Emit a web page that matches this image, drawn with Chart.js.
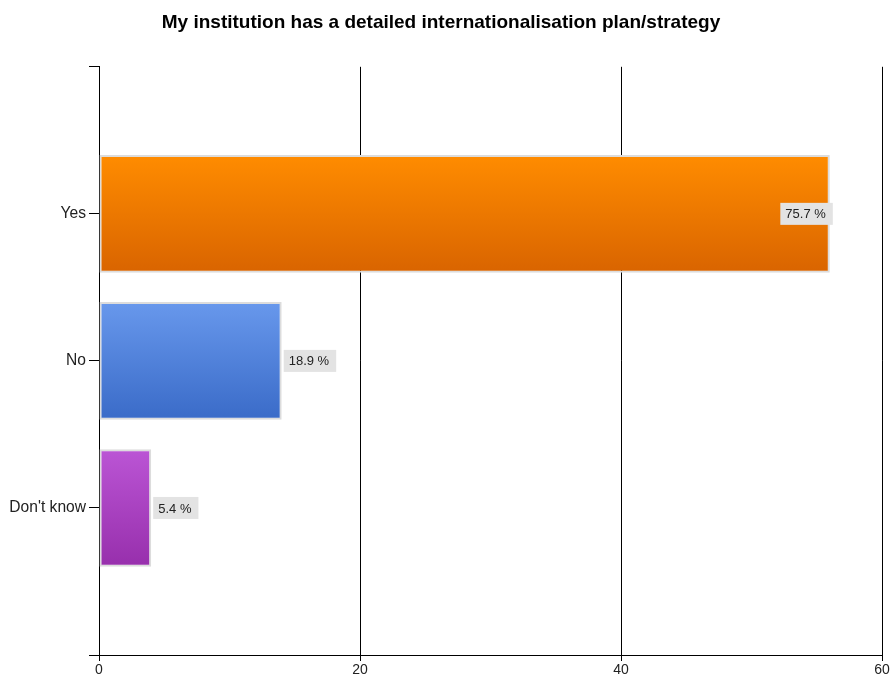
<!DOCTYPE html>
<html>
<head>
<meta charset="utf-8">
<script src="https://cdn.jsdelivr.net/npm/chart.js@4.4.1/dist/chart.umd.min.js"></script>
<style>
    html, body { margin: 0; padding: 0; background: #fff; }
    #wrap { width: 893px; height: 680px; }
</style>
</head>
<body>
<div id="wrap"><canvas id="chart" width="893" height="680"></canvas></div>
<script>
// Odpowiedzi na pytanie ankietowe
const categories = ["Yes", "No", "Don't know"];
const counts = [56, 14, 4];
const percentLabels = ["75.7 %", "18.9 %", "5.4 %"];
const xTicks = [0, 20, 40, 60];

const gradTop = ["#ff8c00", "#6898ec", "#bb55d5"];
const gradBottom = ["#d96400", "#3a6bc8", "#972fac"];

const FONT = "'Liberation Sans', Arial, sans-serif";

// puste kategorie na górze i na dole, jak w oryginale
const labels = ["", ...categories, ""];
const values = [null, ...counts, null];

function barGradient(context) {
    const chart = context.chart;
    const i = context.dataIndex - 1;
    if (i < 0 || i >= categories.length) return "#ccc";
    const y = chart.scales.y;
    if (!y || !chart.chartArea) return gradTop[i];
    const center = y.getPixelForValue(context.dataIndex);
    const half = (y.getPixelForValue(1) - y.getPixelForValue(0)) * 0.4;
    const g = chart.ctx.createLinearGradient(0, center - half, 0, center + half);
    g.addColorStop(0, gradTop[i]);
    g.addColorStop(1, gradBottom[i]);
    return g;
}

const valueLabels = {
    id: "valueLabels",
    afterDatasetsDraw(chart) {
        const ctx = chart.ctx;
        const meta = chart.getDatasetMeta(0);
        const right = chart.chartArea.right;
        ctx.save();
        ctx.font = "13px " + FONT;
        ctx.textBaseline = "middle";
        meta.data.forEach((bar, idx) => {
            const i = idx - 1;
            if (i < 0 || i >= categories.length) return;
            const text = percentLabels[i];
            const w = ctx.measureText(text).width + 12;
            const h = 22;
            // na zewnątrz słupka, chyba że się nie mieści
            let left = bar.x + 2;
            if (left + w > right) left = bar.x - w + 3;
            ctx.fillStyle = "#e3e3e3";
            ctx.fillRect(left, bar.y - h / 2, w, h);
            ctx.fillStyle = "#222";
            ctx.textAlign = "left";
            ctx.fillText(text, left + 5, bar.y + 1);
        });
        // dolny znacznik osi Y
        const y = chart.scales.y;
        ctx.strokeStyle = "#000";
        ctx.lineWidth = 1;
        ctx.beginPath();
        ctx.moveTo(y.right - 9, chart.chartArea.bottom + 0.5);
        ctx.lineTo(y.right, chart.chartArea.bottom + 0.5);
        ctx.stroke();
        ctx.restore();
    }
};

new Chart(document.getElementById("chart"), {
    type: "bar",
    data: {
        labels: labels,
        datasets: [{
            data: values,
            backgroundColor: barGradient,
            borderColor: "#dcdcdc",
            borderWidth: 2,
            borderSkipped: false,
            categoryPercentage: 1,
            barPercentage: 0.8,
        }],
    },
    options: {
        indexAxis: "y",
        responsive: false,
        animation: false,
        layout: { padding: { left: 0, right: 11, top: 0, bottom: 0 } },
        plugins: {
            legend: { display: false },
            tooltip: { enabled: false },
            title: {
                display: true,
                text: "My institution has a detailed internationalisation plan/strategy",
                color: "#000",
                font: { family: FONT, size: 19, weight: "bold" },
                padding: { top: 11, bottom: 33 },
            },
        },
        scales: {
            x: {
                min: 0,
                max: 60,
                afterBuildTicks: (scale) => { scale.ticks = xTicks.map(v => ({ value: v })); },
                grid: { color: "#000", lineWidth: 1, drawTicks: true, tickLength: 6, tickColor: "#000" },
                border: { color: "#000", width: 1 },
                ticks: {
                    color: "#222",
                    padding: 1,
                    maxRotation: 0,
                    font: { family: FONT, size: 14 },
                },
                afterFit: (scale) => { scale.height = 25; },
            },
            y: {
                offset: false,
                grid: { offset: false, drawOnChartArea: false, drawTicks: true, tickLength: 10, tickColor: "#000" },
                border: { color: "#000", width: 1 },
                ticks: {
                    color: "#222",
                    padding: 3,
                    autoSkip: false,
                    font: { family: FONT, size: 15.6 },
                },
                afterFit: (scale) => { scale.width = 99; },
            },
        },
    },
    plugins: [valueLabels],
});
</script>
</body>
</html>
